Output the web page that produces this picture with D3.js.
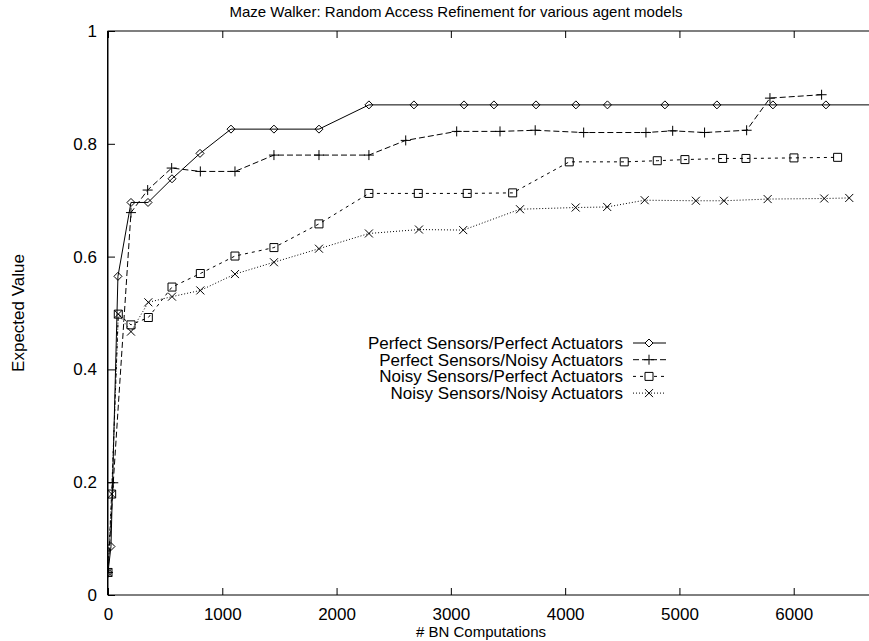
<!DOCTYPE html>
<html>
<head>
<meta charset="utf-8">
<script src="https://cdn.jsdelivr.net/npm/d3@7"></script>
<style>
	body { margin: 0; background: #fff; }
	text { font-family: "Liberation Sans", Arial, sans-serif; fill: #000; }
</style>
</head>
<body>
<div id="chart"></div>
<script>
// values, one pair of arrays per agent model
const names = [
	"Perfect Sensors/Perfect Actuators",
	"Perfect Sensors/Noisy Actuators",
	"Noisy Sensors/Perfect Actuators",
	"Noisy Sensors/Noisy Actuators"
]

const ppX = [0, 26, 87, 201, 350, 560, 805, 1076, 1452, 1846, 2283, 2677, 3115, 3377, 3745, 4094, 4370, 4873, 5328, 5818, 6282, 6700]
const ppY = [0.04, 0.086, 0.565, 0.696, 0.696, 0.738, 0.783, 0.826, 0.826, 0.826, 0.869, 0.869, 0.869, 0.869, 0.869, 0.869, 0.869, 0.869, 0.869, 0.869, 0.869, 0.869]

const pnX = [0, 46, 201, 347, 557, 808, 1111, 1452, 1846, 2283, 2605, 3051, 3430, 3738, 4162, 4707, 4941, 5220, 5588, 5792, 6244]
const pnY = [0.04, 0.199, 0.678, 0.718, 0.757, 0.751, 0.751, 0.780, 0.780, 0.780, 0.806, 0.822, 0.822, 0.824, 0.820, 0.820, 0.823, 0.820, 0.824, 0.881, 0.887]

const npX = [0, 32, 90, 201, 353, 560, 808, 1111, 1452, 1846, 2283, 2715, 3143, 3541, 4036, 4517, 4806, 5048, 5378, 5582, 6002, 6384]
const npY = [0.04, 0.179, 0.498, 0.479, 0.492, 0.546, 0.570, 0.601, 0.616, 0.658, 0.712, 0.712, 0.712, 0.713, 0.768, 0.768, 0.770, 0.772, 0.774, 0.774, 0.775, 0.776]

const nnX = [0, 32, 90, 201, 353, 560, 808, 1111, 1452, 1846, 2283, 2721, 3108, 3605, 4092, 4368, 4696, 5144, 5389, 5772, 6267, 6486]
const nnY = [0.04, 0.179, 0.498, 0.467, 0.519, 0.529, 0.540, 0.569, 0.590, 0.614, 0.641, 0.648, 0.647, 0.684, 0.687, 0.688, 0.700, 0.699, 0.699, 0.702, 0.703, 0.704]

const xTicks = [0, 1000, 2000, 3000, 4000, 5000, 6000]
const yTicks = [0, 0.2, 0.4, 0.6, 0.8, 1]

const title = "Maze Walker: Random Access Refinement for various agent models"
const xLabel = "# BN Computations"
const yLabel = "Expected Value"

const series = [
	{ name: names[0], xs: ppX, ys: ppY, marker: "diamond", dash: null },
	{ name: names[1], xs: pnX, ys: pnY, marker: "plus", dash: "6,3" },
	{ name: names[2], xs: npX, ys: npY, marker: "square", dash: "3,4" },
	{ name: names[3], xs: nnX, ys: nnY, marker: "cross", dash: "1,2" }
]

const width = 869
const height = 641
const margin = ({top: 31, left: 108})

const svg = d3.select("#chart")
	.append("svg")
		.attr("width", width)
		.attr("height", height)

// the x range runs past the right edge of the picture, as in the original crop
const x = d3.scaleLinear()
	.domain([0, 7000])
	.range([margin.left, margin.left + 800])

const y = d3.scaleLinear()
	.domain([0, 1])
	.range([595, margin.top])

// gnuplot style frame, ticks pointing inwards
const frame = svg.append("g")
	.attr("fill", "none")
	.attr("stroke", "#000")
	.attr("stroke-width", 1)

frame.append("rect")
	.attr("x", x(0))
	.attr("y", y(1))
	.attr("width", x(7000) - x(0))
	.attr("height", y(0) - y(1))

frame.append("line")
	.attr("x1", x(0) - 0.5).attr("x2", x(0) - 0.5)
	.attr("y1", y(1)).attr("y2", y(0))

const tickLen = 7

const xAxis = g => g
	.attr("transform", `translate(0,${y(0)})`)
	.call(d3.axisBottom(x).tickValues(xTicks).tickSize(-tickLen).tickPadding(tickLen + 6).tickFormat(d3.format("d")))
	.call(g => g.select(".domain").remove())
	.call(g => g.selectAll("text").attr("font-size", 17))

const xAxisTop = g => g
	.attr("transform", `translate(0,${y(1)})`)
	.call(d3.axisTop(x).tickValues(xTicks).tickSize(-tickLen).tickFormat(""))
	.call(g => g.select(".domain").remove())

const yAxis = g => g
	.attr("transform", `translate(${x(0)},0)`)
	.call(d3.axisLeft(y).tickValues(yTicks).tickSize(-tickLen).tickPadding(11).tickFormat(d3.format("")))
	.call(g => g.select(".domain").remove())
	.call(g => g.selectAll("text").attr("font-size", 17))

svg.append("g").call(xAxis)
svg.append("g").call(xAxisTop)
svg.append("g").call(yAxis)

svg.append("text")
	.attr("x", 456)
	.attr("y", 17)
	.attr("text-anchor", "middle")
	.attr("font-size", 15)
	.text(title)

svg.append("text")
	.attr("x", 481)
	.attr("y", 637)
	.attr("text-anchor", "middle")
	.attr("font-size", 15)
	.text(xLabel)

svg.append("text")
	.attr("transform", `translate(24,${(y(0) + y(1)) / 2}) rotate(-90)`)
	.attr("text-anchor", "middle")
	.attr("font-size", 17)
	.text(yLabel)

function drawMarker(g, type) {
	const s = 4
	if (type == "diamond") {
		g.append("path").attr("d", `M0,${-s}L${s},0L0,${s}L${-s},0Z`)
	} else if (type == "plus") {
		g.append("path").attr("d", `M${-s - 1},0H${s + 1}M0,${-s - 1}V${s + 1}`)
	} else if (type == "square") {
		g.append("path").attr("d", `M${-s},${-s}H${s}V${s}H${-s}Z`)
	} else {
		g.append("path").attr("d", `M${-s},${-s}L${s},${s}M${s},${-s}L${-s},${s}`)
	}
}

svg.append("clipPath")
	.attr("id", "plotclip")
	.append("rect")
		.attr("x", x(0))
		.attr("y", y(1))
		.attr("width", x(7000) - x(0))
		.attr("height", y(0) - y(1))

const line = d3.line()
	.x(d => x(d[0]))
	.y(d => y(d[1]))

const plot = svg.append("g")
	.attr("clip-path", "url(#plotclip)")

series.forEach(function (s) {
	const pts = s.xs.map((v, i) => [v, s.ys[i]])

	plot.append("path")
		.attr("fill", "none")
		.attr("stroke", "#000")
		.attr("stroke-width", 1)
		.attr("stroke-dasharray", s.dash)
		.attr("d", line(pts))

	plot.append("g")
		.attr("fill", "none")
		.attr("stroke", "#000")
		.attr("stroke-width", 1)
		.selectAll("g")
		.data(pts)
		.join("g")
			.attr("transform", d => `translate(${x(d[0])},${y(d[1])})`)
			.each(function () { drawMarker(d3.select(this), s.marker) })
})

// legend
const legendTop = 343
const legendStep = 16.7
const legend = svg.append("g")

series.forEach(function (s, i) {
	const ly = legendTop + i * legendStep

	legend.append("text")
		.attr("x", 623)
		.attr("y", ly)
		.attr("dy", "0.35em")
		.attr("text-anchor", "end")
		.attr("font-size", 17)
		.text(s.name)

	legend.append("line")
		.attr("x1", 633)
		.attr("x2", 666)
		.attr("y1", ly)
		.attr("y2", ly)
		.attr("stroke", "#000")
		.attr("stroke-dasharray", s.dash)

	const m = legend.append("g")
		.attr("transform", `translate(649,${ly})`)
		.attr("fill", "#fff")
		.attr("stroke", "#000")
	drawMarker(m, s.marker)
})
</script>
</body>
</html>
